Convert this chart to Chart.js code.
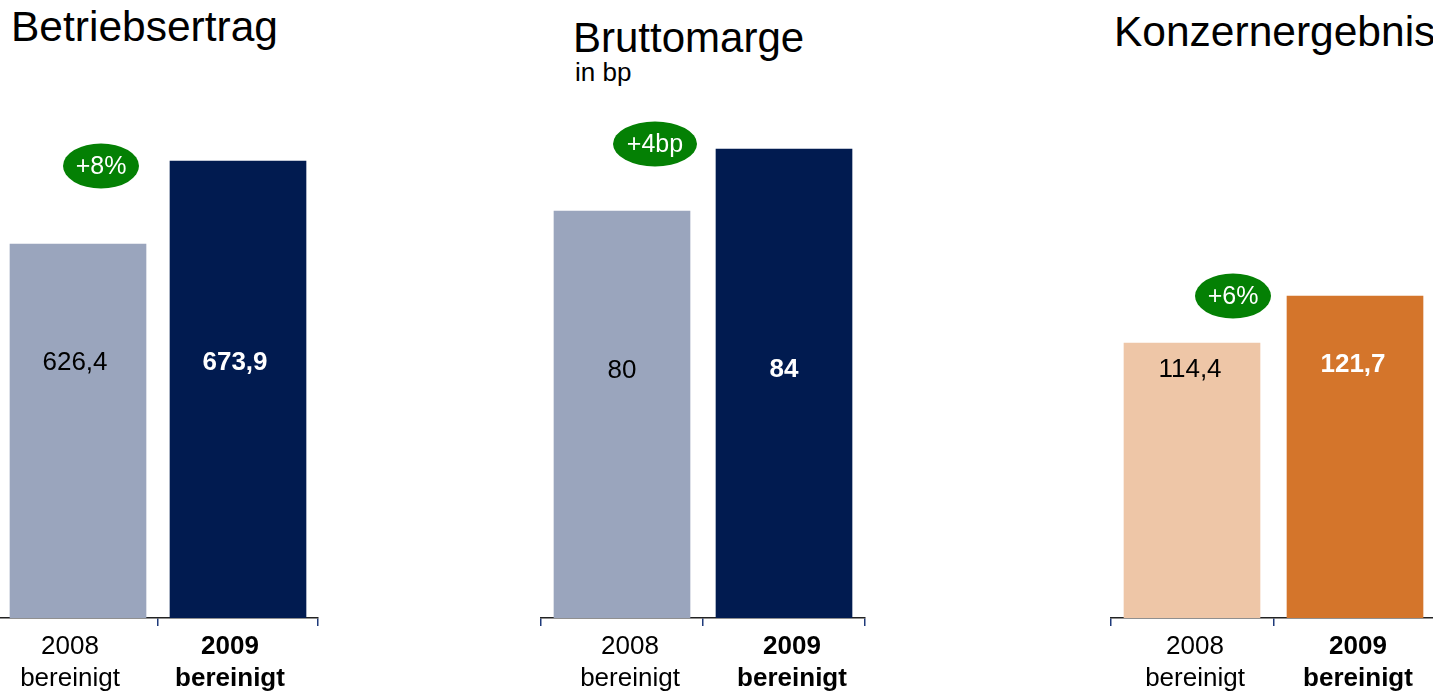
<!DOCTYPE html>
<html>
<head>
<meta charset="utf-8">
<script src="https://cdn.jsdelivr.net/npm/chart.js@4/dist/chart.umd.min.js"></script>
<style>
  html, body { margin:0; padding:0; background:#fff; width:1433px; height:693px; overflow:hidden; }
  body { position:relative; font-family:"Liberation Sans", Arial, sans-serif; }
  .title { position:absolute; font-size:42px; line-height:1; color:#000; white-space:nowrap; }
  .sub { position:absolute; font-size:26px; line-height:1; color:#000; white-space:nowrap; }
  .wrap { position:absolute; top:0; height:693px; }
</style>
</head>
<body>
<div class="title" style="left:11px; top:6px; font-size:42.5px;">Betriebsertrag</div>
<div class="title" style="left:573px; top:17px;">Bruttomarge</div>
<div class="sub" style="left:575px; top:59px;">in bp</div>
<div class="title" style="left:1114px; top:11px; font-size:42.5px;">Konzernergebnis</div>

<div class="wrap" style="left:-2px; width:332px;"><canvas id="c1"></canvas></div>
<div class="wrap" style="left:530px; width:350px;"><canvas id="c2"></canvas></div>
<div class="wrap" style="left:1100px; width:350px;"><canvas id="c3"></canvas></div>

<script>
// ---- data ----
const categories = [['2008', 'bereinigt'], ['2009', 'bereinigt']];
const betriebsertrag = [626.4, 673.9];
const bruttomarge = [80, 84];
const konzernergebnis = [114.4, 121.7];
const changes = ['+8%', '+4bp', '+6%'];

// ---- styles ----
const blueColors = ['#9AA5BD', '#011B50'];
const orangeColors = ['#EEC6A7', '#D4752B'];
const FONT = '"Liberation Sans", Arial, sans-serif';

function fmt(v) { return String(v).replace('.', ','); }

const annotPlugin = {
  id: 'annot',
  afterDatasetsDraw(chart, args, opts) {
    const ctx = chart.ctx;
    const meta = chart.getDatasetMeta(0);
    const ds = chart.data.datasets[0];
    const base = chart.chartArea.bottom;
    meta.data.forEach((bar, i) => {
      ctx.save();
      ctx.font = (i === 1 ? 'bold ' : '') + '26px ' + FONT;
      ctx.fillStyle = i === 1 ? '#ffffff' : '#000000';
      ctx.textAlign = 'center';
      ctx.textBaseline = 'middle';
      ctx.fillText(fmt(ds.data[i]), bar.x + opts.labelDx, base + opts.labelDy[i]);
      ctx.restore();
    });
    const b0 = meta.data[0], b1 = meta.data[1];
    const cx = b0.x + opts.badgeDx, cy = b1.y + opts.badgeDy;
    ctx.save();
    ctx.beginPath();
    ctx.ellipse(cx, cy, opts.rx, 22.5, 0, 0, Math.PI * 2);
    ctx.fillStyle = '#048004';
    ctx.fill();
    ctx.fillStyle = '#ffffff';
    ctx.font = '25px ' + FONT;
    ctx.textAlign = 'center';
    ctx.textBaseline = 'middle';
    ctx.fillText(opts.text, cx, cy + 1);
    ctx.restore();
  }
};

function makeChart(id, values, colors, yMin, yMax, padL, padR, labelOffset, annot) {
  return new Chart(document.getElementById(id), {
    type: 'bar',
    data: {
      labels: categories,
      datasets: [{ data: values, backgroundColor: colors, barThickness: 136, borderWidth: 0 }]
    },
    options: {
      responsive: true,
      maintainAspectRatio: false,
      animation: false,
      events: [],
      layout: { padding: { left: padL, right: padR, top: 0, bottom: 0 } },
      plugins: { legend: { display: false }, tooltip: { enabled: false }, annot: annot },
      scales: {
        y: { display: false, min: yMin, max: yMax },
        x: {
          offset: true,
          border: { display: true, color: '#222222', width: 1.5 },
          grid: { display: true, drawOnChartArea: false, drawTicks: true, tickLength: 8, color: '#1F3A7A', lineWidth: 1.5, offset: true },
          ticks: {
            color: '#000',
            padding: 5,
            labelOffset: labelOffset,
            maxRotation: 0,
            autoSkip: false,
            font: (c) => ({ family: FONT, size: 26, weight: c.index === 1 ? 'bold' : 'normal', lineHeight: 1.22 })
          },
          afterFit: (s) => { s.height = 75; }
        }
      }
    },
    plugins: [annotPlugin]
  });
}

makeChart('c1', betriebsertrag, blueColors, 412.4, 766.0, 0, 12, -8,
  { text: changes[0], badgeDx: 23, badgeDy: 5, rx: 38, labelDx: -3, labelDy: [-255, -255] });
makeChart('c2', bruttomarge, blueColors, 53.74, 93.61, 11, 15, 8,
  { text: changes[1], badgeDx: 33, badgeDy: -5, rx: 42, labelDx: 0, labelDy: [-247, -248] });
makeChart('c3', konzernergebnis, orangeColors, 71.69, 167.67, 10.5, 13.5, 3,
  { text: changes[2], badgeDx: 41, badgeDy: 0, rx: 38, labelDx: -2, labelDy: [-248, -253] });
</script>
</body>
</html>
